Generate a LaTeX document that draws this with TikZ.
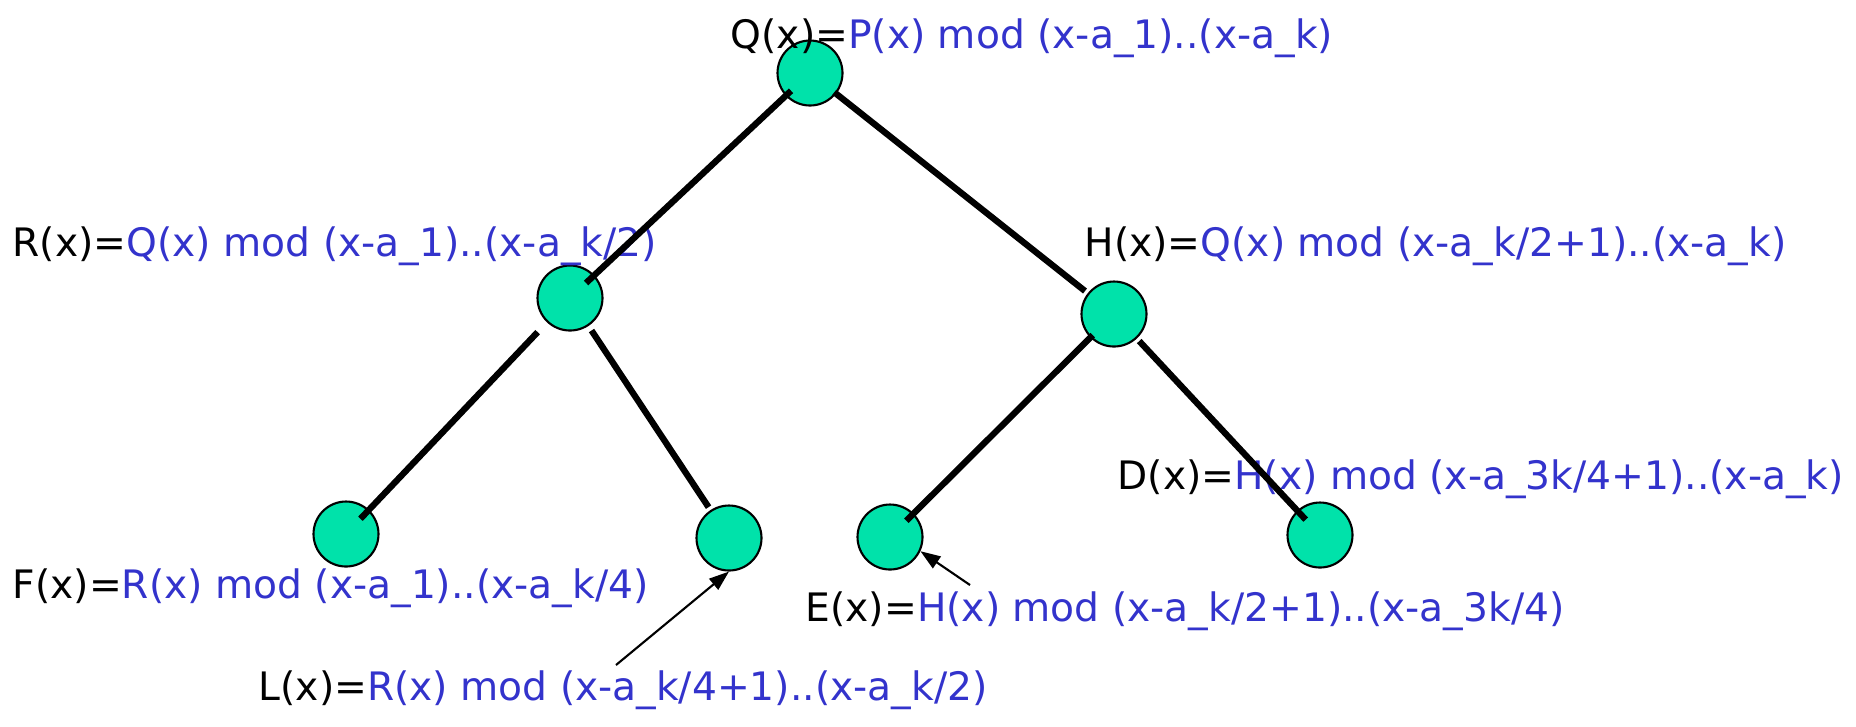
\documentclass[tikz,border=0pt]{standalone}
\usepackage{fontspec}
\setmainfont{DejaVu Sans}
\usepackage{xcolor}
\usepackage{tikz}
\usetikzlibrary{arrows.meta, calc}
\definecolor{nodegreen}{RGB}{0, 226, 170}
\definecolor{modblue}{RGB}{51, 51, 204}
\tikzset{
    tnode/.style={circle, draw=black, fill=nodegreen, minimum size=0.65cm,
                  inner sep=0pt, line width=0.6pt},
    branch/.style={line width=1.8pt, color=black},
    lbl/.style={anchor=west, inner sep=0pt,
                font=\fontsize{11.15}{13}\selectfont},
    pointer/.style={-{Triangle[length=0.2cm, width=0.14cm]}, line width=0.6pt},
}

\begin{document}
\begin{tikzpicture}
    \useasboundingbox (0,0) rectangle (18.56,-7.26);

    % Tree nodes
    \node[tnode] (Q) at (8.10,-0.73) {};
    \node[tnode] (R) at (5.70,-2.98) {};
    \node[tnode] (H) at (11.14,-3.14) {};
    \node[tnode] (F) at (3.46,-5.34) {};
    \node[tnode] (L) at (7.29,-5.38) {};
    \node[tnode] (E) at (8.90,-5.37) {};
    \node[tnode] (D) at (13.20,-5.35) {};

    % Labels
    \node[lbl] (Qtxt) at (7.30,-0.38)
        {Q(x)=\textcolor{modblue}{P(x) mod (x-a\_1)..(x-a\_k)}};
    \node[lbl] (Rtxt) at (0.12,-2.46)
        {R(x)=\textcolor{modblue}{Q(x) mod (x-a\_1)..(x-a\_k/2)}};
    \node[lbl] (Htxt) at (10.84,-2.46)
        {H(x)=\textcolor{modblue}{Q(x) mod (x-a\_k/2+1)..(x-a\_k)}};
    \node[lbl] (Dtxt) at (11.17,-4.79)
        {D(x)=\textcolor{modblue}{H(x) mod (x-a\_3k/4+1)..(x-a\_k)}};
    \node[lbl] (Ftxt) at (0.12,-5.88)
        {F(x)=\textcolor{modblue}{R(x) mod (x-a\_1)..(x-a\_k/4)}};
    \node[lbl] (Etxt) at (8.05,-6.11)
        {E(x)=\textcolor{modblue}{H(x) mod (x-a\_k/2+1)..(x-a\_3k/4)}};
    \node[lbl] (Ltxt) at (2.58,-6.90)
        {L(x)=\textcolor{modblue}{R(x) mod (x-a\_k/4+1)..(x-a\_k/2)}};

    % Branches
    \draw[branch, shorten <=0.26cm, shorten >=0.22cm] (Q.center) -- (R.center);
    \draw[branch, shorten <=0.31cm, shorten >=0.37cm] (Q.center) -- (H.center);
    \draw[branch, shorten <=0.47cm, shorten >=0.21cm] (R.center) -- (F.center);
    \draw[branch, shorten <=0.39cm, shorten >=0.37cm] (R.center) -- (L.center);
    \draw[branch, shorten <=0.30cm, shorten >=0.23cm] (H.center) -- (E.center);
    \draw[branch, shorten <=0.37cm, shorten >=0.21cm] (H.center) -- (D.center);

    % Pointers
    \coordinate (Ltail) at (6.16,-6.65);
    \coordinate (Etail) at (9.70,-5.85);
    \draw[pointer] (Ltail) -- (L.south);
    \draw[pointer] (Etail) -- (E.-25);
\end{tikzpicture}
\end{document}
